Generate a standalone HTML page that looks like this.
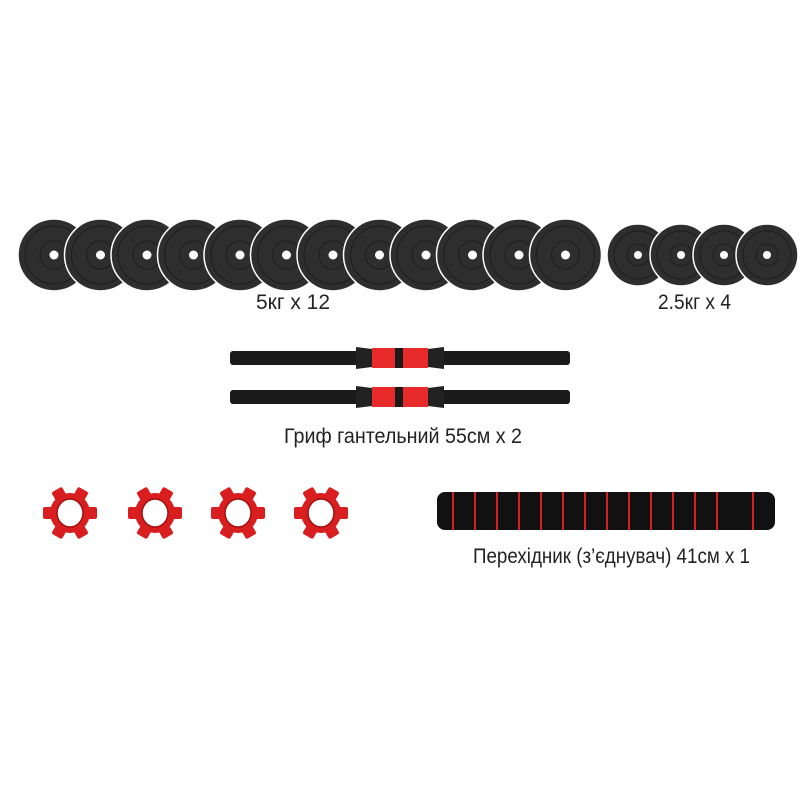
<!DOCTYPE html>
<html><head><meta charset="utf-8"><style>
html,body{margin:0;padding:0;background:#fff;width:800px;height:800px;overflow:hidden}
text{font-family:"Liberation Sans","DejaVu Sans",sans-serif}
</style></head><body>
<svg width="800" height="800" viewBox="0 0 800 800" xmlns="http://www.w3.org/2000/svg">
<defs>
<g id="bp">
<circle r="36" fill="#2e2e2e" stroke="#fff" stroke-width="1.5"/>
<circle r="29" fill="none" stroke="#1e1e1e" stroke-width="1"/>
<circle r="14" fill="none" stroke="#1e1e1e" stroke-width="1"/>
<circle r="4.5" fill="#fff"/>
</g>
<g id="sp">
<circle r="31" fill="#2e2e2e" stroke="#fff" stroke-width="1.5"/>
<circle r="24" fill="none" stroke="#1e1e1e" stroke-width="1"/>
<circle r="11" fill="none" stroke="#1e1e1e" stroke-width="1"/>
<circle r="4" fill="#fff"/>
</g>
<g id="bar">
<rect x="230" y="-7" width="340" height="14" rx="3" fill="#1a1a1a"/>
<path d="M356,-11 L372,-9 L372,9 L356,11 Z" fill="#222"/>
<path d="M444,-11 L428,-9 L428,9 L444,11 Z" fill="#222"/>
<rect x="372" y="-10" width="56" height="20" fill="#e82a2a"/>
<rect x="395" y="-10" width="8" height="20" fill="#1a1a1a"/>
</g>
<g id="col">
<g fill="#d81e1e">
<circle r="20"/>
<rect x="-27" y="-6" width="54" height="12" rx="2"/>
<rect x="-27" y="-6" width="54" height="12" rx="2" transform="rotate(60)"/>
<rect x="-27" y="-6" width="54" height="12" rx="2" transform="rotate(120)"/>
</g>
<ellipse rx="13" ry="14" fill="#fff" stroke="#a01010" stroke-width="1.5"/>
</g>
</defs>
<g transform="translate(0,255)">
<use href="#bp" x="54"/><use href="#bp" x="100.5"/><use href="#bp" x="147"/><use href="#bp" x="193.5"/>
<use href="#bp" x="240"/><use href="#bp" x="286.5"/><use href="#bp" x="333"/><use href="#bp" x="379.5"/>
<use href="#bp" x="426"/><use href="#bp" x="472.5"/><use href="#bp" x="519"/><use href="#bp" x="565.5"/>
<use href="#sp" x="638"/><use href="#sp" x="681"/><use href="#sp" x="724"/><use href="#sp" x="767"/>
</g>
<text x="293" y="309" font-size="21" text-anchor="middle" fill="#222">5кг x 12</text>
<text x="658" y="309" font-size="21" textLength="73" lengthAdjust="spacingAndGlyphs" fill="#222">2.5кг x 4</text>
<use href="#bar" y="358"/>
<use href="#bar" y="397"/>
<text x="284" y="443" font-size="21" textLength="238" lengthAdjust="spacingAndGlyphs" fill="#222">Гриф гантельний 55см x 2</text>
<use href="#col" x="70" y="513"/><use href="#col" x="155" y="513"/><use href="#col" x="238" y="513"/><use href="#col" x="321" y="513"/>
<rect x="437" y="492" width="338" height="38" rx="8" fill="#111"/>
<g fill="#d82020">
<rect x="452" y="492" width="2" height="38"/><rect x="474" y="492" width="2" height="38"/>
<rect x="496" y="492" width="2" height="38"/><rect x="518" y="492" width="2" height="38"/>
<rect x="540" y="492" width="2" height="38"/><rect x="562" y="492" width="2" height="38"/>
<rect x="584" y="492" width="2" height="38"/><rect x="606" y="492" width="2" height="38"/>
<rect x="628" y="492" width="2" height="38"/><rect x="650" y="492" width="2" height="38"/>
<rect x="672" y="492" width="2" height="38"/><rect x="694" y="492" width="2" height="38"/>
<rect x="716" y="492" width="2" height="38"/><rect x="752" y="492" width="2" height="38"/>
</g>
<text x="473" y="563" font-size="21" textLength="277" lengthAdjust="spacingAndGlyphs" fill="#222">Перехідник (з’єднувач) 41см x 1</text>
</svg>
</body></html>
